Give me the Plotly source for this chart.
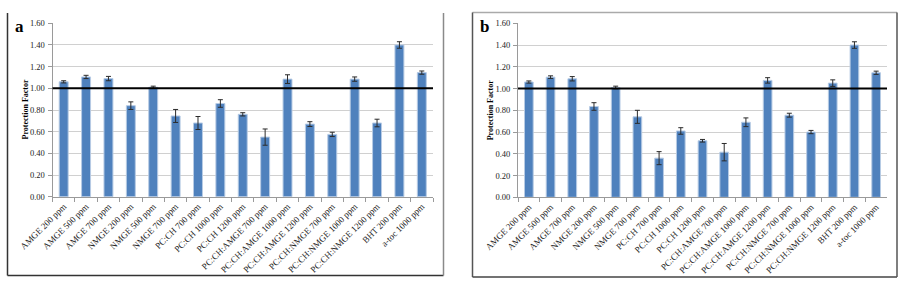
import plotly.graph_objects as go

categories = ["AMGE 200 ppm", "AMGE 500 ppm", "AMGE 700 ppm", "NMGE 200 ppm", "NMGE 500 ppm",
              "NMGE 700 ppm", "PC:CH 700 ppm", "PC:CH 1000 ppm", "PC:CH 1200 ppm",
              "PC:CH:AMGE 700 ppm", "PC:CH:AMGE 1000 ppm", "PC:CH:AMGE 1200 ppm",
              "PC:CH:NMGE 700 ppm", "PC:CH:NMGE 1000 ppm", "PC:CH:NMGE 1200 ppm",
              "BHT 200 ppm", "a-toc 1000 ppm"]

values_a = [1.06, 1.105, 1.09, 0.84, 1.01, 0.745, 0.68, 0.86, 0.76, 0.55, 1.085, 0.67, 0.575,
            1.085, 0.68, 1.40, 1.145]
errors_a = [0.01, 0.015, 0.02, 0.035, 0.01, 0.06, 0.06, 0.035, 0.015, 0.075, 0.04, 0.022, 0.02,
            0.02, 0.035, 0.03, 0.015]

values_b = [1.06, 1.105, 1.09, 0.835, 1.01, 0.74, 0.36, 0.61, 0.52, 0.415, 0.69, 1.075, 0.755,
            0.60, 1.05, 1.40, 1.145]
errors_b = [0.01, 0.012, 0.02, 0.035, 0.012, 0.06, 0.06, 0.03, 0.012, 0.08, 0.04, 0.025, 0.018,
            0.015, 0.03, 0.03, 0.015]

y_ticks = [0.0, 0.2, 0.4, 0.6, 0.8, 1.0, 1.2, 1.4, 1.6]
reference_level = 1.0

W, H = 900, 282
SERIF = "Liberation Serif, Times New Roman, serif"
BAR = "#4f81bd"

def px_x(v):
    return v / W

def px_y(v):
    return 1 - v / H

fig = go.Figure()

panels = [
    dict(vals=values_a, errs=errors_a, xa="x", ya="y", xdom=[52.5, 433], ydom=[196.7, 23.3],
         letter="a", lx=19, title_x=24.5),
    dict(vals=values_b, errs=errors_b, xa="x2", ya="y2", xdom=[518, 887], ydom=[197.3, 23.3],
         letter="b", lx=484, title_x=490),
]

annotations = []
shapes = []
for i, p in enumerate(panels):
    fig.add_trace(go.Bar(
        x=categories, y=p["vals"], xaxis=p["xa"], yaxis=p["ya"],
        marker=dict(color=BAR, line=dict(color="#b7cbe4", width=1)),
        error_y=dict(type="data", array=p["errs"], visible=True, color="#2b2b2b",
                     thickness=1, width=2.5),
        showlegend=False, hoverinfo="x+y",
    ))
    suffix = "" if i == 0 else "2"
    fig.layout["xaxis" + suffix] = dict(
        domain=[px_x(p["xdom"][0]), px_x(p["xdom"][1])], anchor="y" + suffix,
        automargin=False,
        tickangle=-45, tickfont=dict(family=SERIF, size=9, color="#222"),
        showline=True, linecolor="#9a9a9a", linewidth=1,
        ticks="outside", tickson="boundaries", ticklen=4, tickcolor="#9a9a9a",
        showgrid=False, zeroline=False, fixedrange=True,
    )
    fig.layout["yaxis" + suffix] = dict(
        domain=[px_y(p["ydom"][0]), px_y(p["ydom"][1])], anchor="x" + suffix,
        automargin=False,
        range=[0, 1.6], tickvals=y_ticks, tickformat=".2f",
        tickfont=dict(family=SERIF, size=8.5, color="#222"),
        showline=True, linecolor="#9a9a9a", linewidth=1,
        ticks="outside", ticklen=4, tickcolor="#9a9a9a", ticklabelstandoff=1,
        showgrid=True, gridcolor="#d0d0d0", gridwidth=1, zeroline=False, fixedrange=True,
    )
    # reference line at protection factor 1.0
    shapes.append(dict(type="line", xref=p["xa"] + " domain", yref=p["ya"],
                       x0=0, x1=1, y0=reference_level, y1=reference_level,
                       line=dict(color="#000000", width=2)))
    annotations.append(dict(text="<b>Protection Factor</b>", textangle=-90,
                            xref="paper", yref="paper", x=px_x(p["title_x"]),
                            y=px_y((p["ydom"][0] + p["ydom"][1]) / 2),
                            showarrow=False, font=dict(family=SERIF, size=8, color="#000"),
                            xanchor="center", yanchor="middle"))
    annotations.append(dict(text="<b>" + p["letter"] + "</b>", xref="paper", yref="paper",
                            x=px_x(p["lx"]), y=px_y(27), showarrow=False,
                            font=dict(family=SERIF, size=17, color="#000"),
                            xanchor="center", yanchor="middle"))

# panel frames
def seg(x0, y0, x1, y1, color, width=1.5):
    return dict(type="line", xref="paper", yref="paper", x0=px_x(x0), y0=px_y(y0),
                x1=px_x(x1), y1=px_y(y1), line=dict(color=color, width=width))

shapes += [
    seg(7.5, 13, 7.5, 275.5, "#333333"),
    seg(7.5, 275.5, 443.5, 275.5, "#333333"),
    seg(443.5, 13, 443.5, 275.5, "#8a8a8a"),
    seg(472.5, 12.5, 897, 12.5, "#aaaaaa"),
    seg(472.5, 12.5, 472.5, 277, "#555555"),
    seg(472.5, 277, 897, 277, "#444444"),
    seg(897, 12.5, 897, 277, "#555555"),
]

fig.update_layout(
    template="none",
    width=W, height=H, autosize=False,
    margin=dict(l=0, r=0, t=0, b=0, pad=0),
    paper_bgcolor="white", plot_bgcolor="white",
    bargap=0.6, shapes=shapes, annotations=annotations,
)

fig.write_html(
    "out.html",
    config={"displayModeBar": False},
    post_script="document.body.style.margin='0';document.body.style.overflow='hidden';",
)
